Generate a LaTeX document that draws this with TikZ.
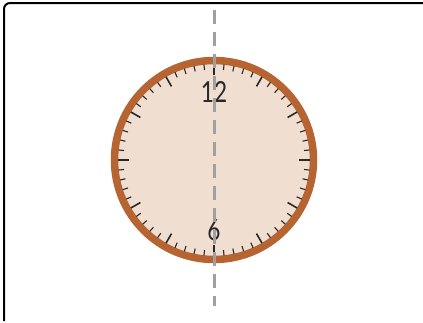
\documentclass[tikz,border=0pt]{standalone}
\usepackage{fontspec}
\usetikzlibrary{calc}
\newfontfamily\clkfont{Lato}
\definecolor{rimcol}{RGB}{182,100,50}
\definecolor{facecol}{RGB}{240,222,208}
\definecolor{axiscol}{RGB}{160,160,160}
\definecolor{inkcol}{RGB}{40,40,40}
\tikzset{
  frameline/.style={line width=2pt, black, rounded corners=6pt},
  minortick/.style={inkcol, line width=1.1pt},
  majortick/.style={inkcol, line width=1.6pt},
  numlabel/.style={font=\clkfont\fontsize{29}{29}\selectfont, text=inkcol, inner sep=0pt, xscale=0.78},
  axisline/.style={axiscol, line width=3pt, dash pattern=on 14pt off 8pt}
}
\begin{document}
\begin{tikzpicture}[x=1pt,y=-1pt]
\useasboundingbox (0,0) rectangle (423,322);
\coordinate (fa) at (4,321);
\coordinate (fb) at (4,3);
\coordinate (fc) at (423,3);
\draw[frameline] (fa) -- (fb) -- (fc);
\coordinate (c) at (214,160);
\fill[facecol] (c) circle (100);
\draw[rimcol, line width=7.5pt] (c) circle (99.5);
\foreach \i in {0,...,59}{
  \pgfmathsetmacro{\a}{90-6*\i}
  \pgfmathtruncatemacro{\m}{mod(\i,5)}
  \ifnum\m=0
    \draw[majortick] ($(c)+(\a:96)$) -- ($(c)+(\a:85)$);
  \else
    \draw[minortick] ($(c)+(\a:96)$) -- ($(c)+(\a:90.5)$);
  \fi
}
\node[numlabel] (n12) at (214,92) {12};
\node[numlabel] (n6) at (214,230) {6};
\coordinate (dt) at (214,10);
\coordinate (db) at (214,306);
\draw[axisline] (dt) -- (db);
\end{tikzpicture}
\end{document}
